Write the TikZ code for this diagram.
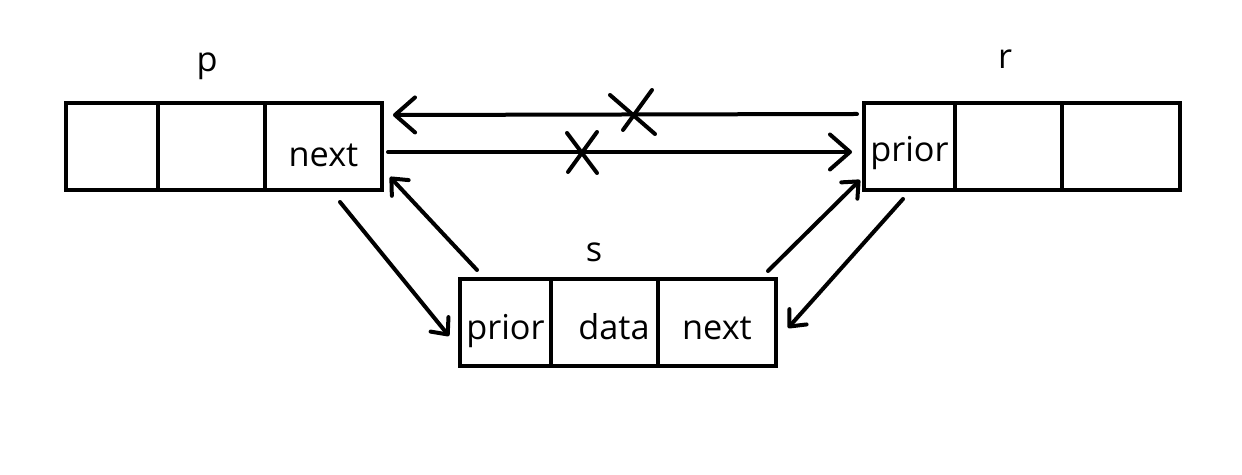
\documentclass[tikz,border=0pt]{standalone}
\usepackage{fontspec}
\setmainfont{Open Sans}
\usetikzlibrary{arrows.meta}

\begin{document}
\begin{tikzpicture}[
  x=1cm, y=1cm,
  every node/.style={inner sep=1pt, font=\fontsize{19.5}{23}\selectfont},
  cell/.style={draw, line width=0.08cm, inner sep=0pt, minimum height=1.74cm},
  textdrop/.style={text height=#1, text depth=0.14cm},
  arrow/.style={draw, line width=0.08cm, line cap=round,
    -{Straight Barb[length=0.40cm, width=0.70cm, round]}},
  sarrow/.style={draw, line width=0.08cm, line cap=round,
    -{Straight Barb[length=0.26cm, width=0.46cm, round]}},
  crossline/.style={draw, line width=0.08cm, line cap=round}]

  \useasboundingbox (0,0) rectangle (24.84,9.50);

  % node p
  \node[cell, minimum width=1.84cm] (p1) at (2.24,6.57) {};
  \node[cell, minimum width=2.14cm] (p2) at (4.23,6.57) {};
  \node[cell, textdrop=0.96cm, minimum width=2.34cm] (pnext) at (6.47,6.57) {next};

  % node r
  \node[cell, textdrop=0.76cm, minimum width=1.82cm] (rprior) at (18.19,6.57) {prior};
  \node[cell, minimum width=2.14cm] (r2) at (20.17,6.57) {};
  \node[cell, minimum width=2.36cm] (r3) at (22.42,6.57) {};

  % node s
  \node[cell, textdrop=0.82cm, minimum width=1.82cm] (sprior) at (10.11,3.05) {prior};
  \node[cell, textdrop=0.82cm, minimum width=2.14cm] (sdata) at (12.09,3.05) {\hspace{0.38cm}data};
  \node[cell, textdrop=0.82cm, minimum width=2.36cm] (snext) at (14.34,3.05) {next};

  % names
  \node (pname) at (4.14,8.18) {p};
  \node (rname) at (20.10,8.32) {r};
  \node (sname) at (11.88,4.45) {s};

  % arrow ends
  \coordinate (rpout) at (17.14,7.22);
  \coordinate (rpin)  at (7.86,7.20);
  \coordinate (prout) at (7.76,6.46);
  \coordinate (prin)  at (17.04,6.46);
  \coordinate (psout) at (6.80,5.46);
  \coordinate (psin)  at (8.98,2.78);
  \coordinate (spout) at (9.54,4.10);
  \coordinate (spin)  at (7.80,5.96);
  \coordinate (srout) at (15.36,4.08);
  \coordinate (srin)  at (17.20,5.90);
  \coordinate (rsout) at (18.06,5.52);
  \coordinate (rsin)  at (15.76,2.94);

  % old links
  \draw[arrow] (rpout) -- (rpin);
  \draw[arrow] (prout) -- (prin);

  % new links
  \draw[sarrow] (psout) -- (psin);
  \draw[sarrow] (spout) -- (spin);
  \draw[sarrow] (srout) -- (srin);
  \draw[sarrow] (rsout) -- (rsin);

  % crosses on the old links
  \draw[crossline] (12.20,7.60) -- (13.10,6.82);
  \draw[crossline] (13.04,7.70) -- (12.46,6.90);
  \draw[crossline] (11.34,6.84) -- (11.94,6.04);
  \draw[crossline] (11.94,6.86) -- (11.36,6.06);
\end{tikzpicture}
\end{document}
